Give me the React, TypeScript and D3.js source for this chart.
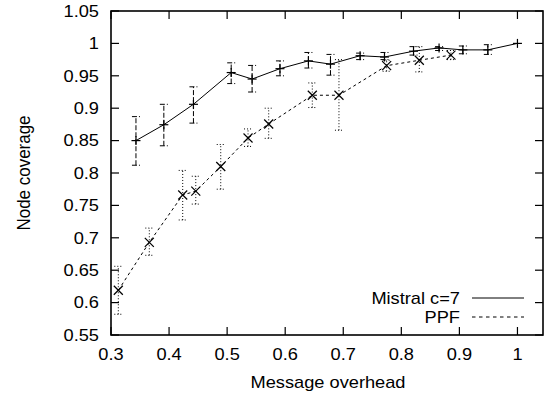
import * as d3 from 'd3';

// values
const mistralX = [0.343, 0.391, 0.442, 0.507, 0.543, 0.591, 0.640, 0.678, 0.729, 0.771, 0.821, 0.865, 0.906, 0.949, 1.0];
const mistralY = [0.850, 0.8745, 0.906, 0.955, 0.945, 0.961, 0.973, 0.968, 0.981, 0.979, 0.988, 0.993, 0.990, 0.990, 1.0];
const mistralLo = [0.812, 0.842, 0.877, 0.938, 0.925, 0.950, 0.962, 0.951, 0.975, 0.975, 0.982, 0.989, 0.984, 0.983, 1.0];
const mistralHi = [0.887, 0.906, 0.933, 0.970, 0.966, 0.973, 0.986, 0.983, 0.985, 0.986, 0.995, 0.995, 0.996, 0.998, 1.0];

const ppfX = [0.3126, 0.366, 0.4235, 0.446, 0.489, 0.536, 0.5716, 0.6467, 0.6926, 0.7747, 0.831, 0.8855];
const ppfY = [0.619, 0.693, 0.766, 0.772, 0.810, 0.854, 0.8756, 0.920, 0.920, 0.9656, 0.974, 0.982];
const ppfLo = [0.582, 0.673, 0.7275, 0.752, 0.775, 0.841, 0.8535, 0.901, 0.866, 0.957, 0.956, 0.975];
const ppfHi = [0.656, 0.715, 0.804, 0.795, 0.844, 0.868, 0.900, 0.939, 0.975, 0.974, 0.995, 0.989];

const xTicks = [0.3, 0.4, 0.5, 0.6, 0.7, 0.8, 0.9, 1];
const xTickLabels = ['0.3', '0.4', '0.5', '0.6', '0.7', '0.8', '0.9', '1'];
const yTicks = [0.55, 0.6, 0.65, 0.7, 0.75, 0.8, 0.85, 0.9, 0.95, 1, 1.05];
const yTickLabels = ['0.55', '0.6', '0.65', '0.7', '0.75', '0.8', '0.85', '0.9', '0.95', '1', '1.05'];

const seriesNames = ['Mistral c=7', 'PPF'];

const font = '"Liberation Sans", Arial, Helvetica, sans-serif';
const stretch = 'scale(1.14,1)';

type Pt = { x: number; y: number; lo: number; hi: number };

function toPoints(xs: number[], ys: number[], lo: number[], hi: number[]): Pt[] {
    return xs.map((x, i) => ({ x, y: ys[i], lo: lo[i], hi: hi[i] }));
}

export default function App() {
    const left = 111, right = 543, top = 11, bottom = 335;

    const xScale = d3.scaleLinear().domain([0.3, 1.044]).range([left, right]);
    const yScale = d3.scaleLinear().domain([0.55, 1.05]).range([bottom, top]);

    const mistral = toPoints(mistralX, mistralY, mistralLo, mistralHi);
    const ppf = toPoints(ppfX, ppfY, ppfLo, ppfHi);

    const line = d3.line<Pt>()
        .x(d => xScale(d.x))
        .y(d => yScale(d.y));

    const cap = 4;
    const mk = 4.5;

    const errorBars = (pts: Pt[], dash: string, key: string) =>
        pts.filter(d => d.hi > d.lo).map((d, i) => {
            const cx = xScale(d.x);
            return (
                <g key={key + i} stroke="#000" strokeWidth={1} strokeDasharray={dash} fill="none">
                    <line x1={cx} x2={cx} y1={yScale(d.lo)} y2={yScale(d.hi)} />
                    <line x1={cx - cap} x2={cx + cap} y1={yScale(d.lo)} y2={yScale(d.lo)} />
                    <line x1={cx - cap} x2={cx + cap} y1={yScale(d.hi)} y2={yScale(d.hi)} />
                </g>
            );
        });

    const legendY = [298, 317];

    return (
        <svg width={547} height={394} style={{ position: 'absolute', left: 0, top: 0, background: '#fff' }}
            fontFamily={font} fontSize={16}>
            <rect x={0} y={0} width={547} height={394} fill="#fff" />

            {/* ticks, mirrored on all sides */}
            <g stroke="#000" strokeWidth={1.2}>
                {xTicks.map((t, i) => (
                    <g key={'xt' + i}>
                        <line x1={xScale(t)} x2={xScale(t)} y1={bottom} y2={bottom - 8} />
                        <line x1={xScale(t)} x2={xScale(t)} y1={top} y2={top + 8} />
                    </g>
                ))}
                {yTicks.map((t, i) => (
                    <g key={'yt' + i}>
                        <line x1={left} x2={left + 8} y1={yScale(t)} y2={yScale(t)} />
                        <line x1={right} x2={right - 8} y1={yScale(t)} y2={yScale(t)} />
                    </g>
                ))}
            </g>

            {/* tick labels */}
            {xTicks.map((t, i) => (
                <text key={'xl' + i} transform={`translate(${xScale(t)},359.5) ${stretch}`} textAnchor="middle">
                    {xTickLabels[i]}
                </text>
            ))}
            {yTicks.map((t, i) => (
                <text key={'yl' + i} transform={`translate(99,${yScale(t) + 5.7}) ${stretch}`} textAnchor="end">
                    {yTickLabels[i]}
                </text>
            ))}

            {/* axis titles */}
            <text transform={`translate(328,388) ${stretch}`} textAnchor="middle">Message overhead</text>
            <text transform={`translate(30,173) rotate(-90) scale(1.06,1.14)`} textAnchor="middle">Node coverage</text>

            {/* error bars */}
            {errorBars(mistral, '5,2', 'me')}
            {errorBars(ppf, '1,2', 'pe')}

            {/* lines */}
            <path d={line(mistral) || ''} fill="none" stroke="#000" strokeWidth={1} />
            <path d={line(ppf) || ''} fill="none" stroke="#000" strokeWidth={1} strokeDasharray="3,3" />

            {/* markers */}
            <g stroke="#000" strokeWidth={1.2}>
                {mistral.map((d, i) => {
                    const cx = xScale(d.x), cy = yScale(d.y);
                    return (
                        <g key={'mm' + i}>
                            <line x1={cx - mk} x2={cx + mk} y1={cy} y2={cy} />
                            <line x1={cx} x2={cx} y1={cy - mk} y2={cy + mk} />
                        </g>
                    );
                })}
                {ppf.map((d, i) => {
                    const cx = xScale(d.x), cy = yScale(d.y);
                    return (
                        <g key={'pm' + i}>
                            <line x1={cx - mk} x2={cx + mk} y1={cy - mk} y2={cy + mk} />
                            <line x1={cx - mk} x2={cx + mk} y1={cy + mk} y2={cy - mk} />
                        </g>
                    );
                })}
            </g>

            {/* legend */}
            {seriesNames.map((name, i) => (
                <g key={'lg' + i}>
                    <text transform={`translate(460,${legendY[i] + 5.7}) ${stretch}`} textAnchor="end">{name}</text>
                    <line x1={472} x2={524} y1={legendY[i]} y2={legendY[i]} stroke="#000" strokeWidth={1}
                        strokeDasharray={i === 0 ? undefined : '3.5,3.5'} />
                </g>
            ))}

            {/* border */}
            <rect x={left} y={top} width={right - left} height={bottom - top} fill="none" stroke="#000" strokeWidth={1.6} />
        </svg>
    );
}
